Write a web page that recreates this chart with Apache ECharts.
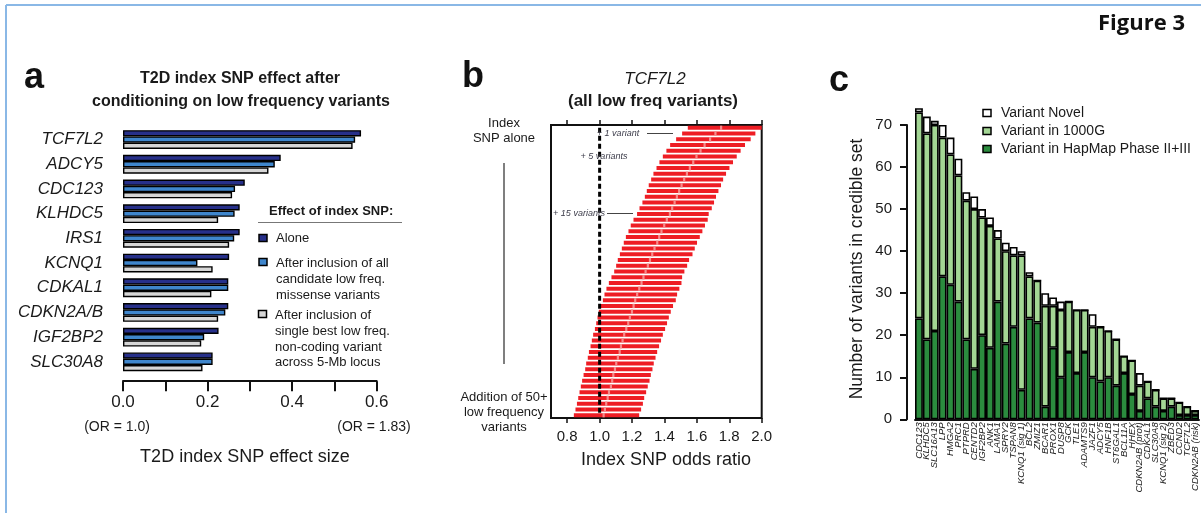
<!DOCTYPE html>
<html>
<head>
<meta charset="utf-8">
<script src="https://cdn.jsdelivr.net/npm/echarts@6/dist/echarts.min.js"></script>
<style>
  html, body { margin: 0; padding: 0; background: #fff; }
  #chart { width: 1201px; height: 513px; }
</style>
</head>
<body>
<div id="chart"></div>
<script>
// panel a: effect size of index SNP per locus
var genesA = ['TCF7L2', 'ADCY5', 'CDC123', 'KLHDC5', 'IRS1', 'KCNQ1', 'CDKAL1', 'CDKN2A/B', 'IGF2BP2', 'SLC30A8'];
var aloneA = [0.563, 0.373, 0.288, 0.276, 0.276, 0.251, 0.249, 0.249, 0.226, 0.212];
var missenseA = [0.549, 0.359, 0.265, 0.264, 0.263, 0.176, 0.249, 0.242, 0.192, 0.212];
var noncodingA = [0.543, 0.344, 0.258, 0.225, 0.251, 0.212, 0.209, 0.225, 0.185, 0.188];

// panel b: TCF7L2 odds ratio as low freq variants are added (CI low, CI high, estimate)
var loB = [1.544, 1.509, 1.472, 1.435, 1.412, 1.390, 1.369, 1.351, 1.332, 1.318,
           1.303, 1.291, 1.279, 1.264, 1.246, 1.231, 1.209, 1.192, 1.178, 1.162,
           1.149, 1.137, 1.125, 1.112, 1.102, 1.090, 1.073, 1.057, 1.042, 1.030,
           1.020, 1.008, 0.995, 0.987, 0.979, 0.971, 0.960, 0.952, 0.944, 0.934,
           0.927, 0.917, 0.911, 0.901, 0.892, 0.884, 0.876, 0.868, 0.860, 0.851, 0.841];
var hiB = [2.000, 1.961, 1.932, 1.897, 1.870, 1.846, 1.823, 1.801, 1.780, 1.762,
           1.749, 1.733, 1.718, 1.706, 1.692, 1.673, 1.667, 1.650, 1.634, 1.618,
           1.601, 1.587, 1.573, 1.552, 1.540, 1.523, 1.509, 1.505, 1.492, 1.478,
           1.470, 1.453, 1.439, 1.427, 1.416, 1.404, 1.390, 1.379, 1.367, 1.355,
           1.345, 1.334, 1.326, 1.316, 1.308, 1.297, 1.287, 1.275, 1.267, 1.256, 1.244];
var orB = [1.749, 1.714, 1.681, 1.647, 1.622, 1.597, 1.577, 1.556, 1.538, 1.521,
           1.505, 1.490, 1.476, 1.462, 1.447, 1.433, 1.414, 1.398, 1.381, 1.367,
           1.355, 1.338, 1.324, 1.310, 1.297, 1.283, 1.270, 1.258, 1.244, 1.231,
           1.219, 1.209, 1.199, 1.186, 1.176, 1.164, 1.151, 1.141, 1.131, 1.123,
           1.112, 1.102, 1.094, 1.084, 1.077, 1.069, 1.057, 1.049, 1.040, 1.032, 1.024];
var ticksB = [0.8, 1.0, 1.2, 1.4, 1.6, 1.8, 2.0];

// panel c: credible set sizes
var lociC = ['CDC123', 'KLHDC5', 'SLC16A13', 'LPP', 'HMGA2', 'PRC1', 'PTPRD', 'CENTD2', 'IGF2BP2',
             'ANK1', 'LAMA1', 'SPRY2', 'TSPAN8', 'KCNQ1 (sig 1)', 'BCL2', 'ZMIZ1', 'BCAR1', 'PROX1',
             'DUSP8', 'GCK', 'TLE1', 'ADAMTS9', 'JAZF1', 'ADCY5', 'HNF1B', 'ST6GAL1', 'BCL11A', 'HHEX',
             'CDKN2AB (prot)', 'CDKAL1', 'SLC30A8', 'KCNQ1 (sig 2)', 'ZBED3', 'CCND2', 'TCF7L2', 'CDKN2AB (risk)'];
var hapmapC = [24, 19, 21, 34, 32, 28, 19, 12, 20, 17, 28, 18, 22, 7, 24, 23, 3, 17,
               10, 16, 11, 16, 10, 9, 10, 8, 11, 6, 2, 5, 3, 2, 3, 1, 1, 1];
var kgC = [49, 49, 49, 33, 31, 30, 33, 38, 28, 29, 15, 22, 17, 32, 10, 10, 24, 10,
           16, 12, 15, 10, 12, 13, 11, 11, 4, 8, 6, 4, 4, 3, 2, 3, 2, 1];
var novelC = [1, 4, 1, 3, 4, 4, 2, 3, 2, 2, 2, 2, 2, 1, 1, 0, 3, 2,
              2, 0, 0, 0, 3, 0, 0, 0, 0, 0, 3, 0, 0, 0, 0, 0, 0, 0];

var FF = '"Liberation Sans", Arial, Helvetica, sans-serif';
var INK = '#1a1a1a';

var rowsB = loB.map(function (v, i) { return String(i + 1); });
var dataB = loB.map(function (v, i) { return [v, hiB[i], orB[i], i]; });

function txt(x, y, s, font, align, color, rot) {
    return {
        type: 'text', x: x, y: y, rotation: rot || 0, z: 10,
        style: {
            text: s, font: font, fill: color || INK,
            align: align || 'left', verticalAlign: 'middle',
            textAlign: align || 'left', textVerticalAlign: 'middle'
        }
    };
}
function box(x, y, w, h, fill) {
    return { type: 'rect', z: 10, shape: { x: x, y: y, width: w, height: h },
             style: { fill: fill, stroke: '#000', lineWidth: 1.5 } };
}
function line(x1, y1, x2, y2, color, w) {
    return { type: 'line', z: 10, shape: { x1: x1, y1: y1, x2: x2, y2: y2 },
             style: { stroke: color, lineWidth: w } };
}

var graphics = [
    // frame
    line(6, 5, 1201, 5, '#8ab8e6', 2),
    line(6, 5, 6, 513, '#8ab8e6', 2),
    txt(1185, 24, 'Figure 3', 'bold 22px "Open Sans", ' + FF, 'right', '#111'),
    // panel letters
    txt(24, 78, 'a', 'bold 36px ' + FF, 'left', '#111'),
    txt(462, 77, 'b', 'bold 36px ' + FF, 'left', '#111'),
    txt(829, 81, 'c', 'bold 36px ' + FF, 'left', '#111'),

    // panel a
    txt(240, 79, 'T2D index SNP effect after', 'bold 16px ' + FF, 'center'),
    txt(241, 101.5, 'conditioning on low frequency variants', 'bold 16px ' + FF, 'center'),
    txt(117, 427, '(OR = 1.0)', '14px ' + FF, 'center'),
    txt(374, 427, '(OR = 1.83)', '14px ' + FF, 'center'),
    txt(245, 457, 'T2D index SNP effect size', '18px ' + FF, 'center'),
    txt(269, 211, 'Effect of index SNP:', 'bold 13px ' + FF, 'left'),
    line(258, 222.5, 402, 222.5, '#777', 1),
    box(259, 234.5, 8, 7, '#27308a'),
    txt(276, 238.5, 'Alone', '13px ' + FF, 'left'),
    box(259, 258.5, 8, 7, '#3f86cc'),
    txt(276, 263, 'After inclusion of all', '13px ' + FF, 'left'),
    txt(276, 279, 'candidate low freq.', '13px ' + FF, 'left'),
    txt(276, 295, 'missense variants', '13px ' + FF, 'left'),
    box(258.5, 310.5, 8, 7, '#d6d6d6'),
    txt(275, 315, 'After inclusion of', '13px ' + FF, 'left'),
    txt(275, 331, 'single best low freq.', '13px ' + FF, 'left'),
    txt(275, 347, 'non-coding variant', '13px ' + FF, 'left'),
    txt(275, 362.5, 'across 5-Mb locus', '13px ' + FF, 'left'),

    // panel b
    txt(655, 79, 'TCF7L2', 'italic 17px ' + FF, 'center'),
    txt(653, 101.5, '(all low freq variants)', 'bold 17px ' + FF, 'center'),
    txt(666, 460, 'Index SNP odds ratio', '18px ' + FF, 'center'),
    txt(504, 123, 'Index', '13px ' + FF, 'center'),
    txt(504, 138, 'SNP alone', '13px ' + FF, 'center'),
    line(504, 163, 504, 364, '#555', 1.5),
    txt(504, 397, 'Addition of 50+', '13px ' + FF, 'center'),
    txt(504, 412, 'low frequency', '13px ' + FF, 'center'),
    txt(504, 427, 'variants', '13px ' + FF, 'center'),
    txt(618, 133.5, '+ 1 variant', 'italic 9px ' + FF, 'center', '#3a3a48'),
    line(647, 133.5, 673, 133.5, '#444', 1),
    txt(604, 156, '+ 5 variants', 'italic 9px ' + FF, 'center', '#3a3a48'),
    txt(579, 213.5, '+ 15 variants', 'italic 9px ' + FF, 'center', '#3a3a48'),
    line(607, 213.5, 633, 213.5, '#444', 1),

    // panel c
    txt(857, 269, 'Number of variants in credible set', '17.5px ' + FF, 'center', INK, Math.PI / 2),
    box(983, 109.5, 8, 7, '#ffffff'),
    txt(1001, 113.5, 'Variant Novel', '14px ' + FF, 'left'),
    box(983, 127.5, 8, 7, '#a3d694'),
    txt(1001, 131.5, 'Variant in 1000G', '14px ' + FF, 'left'),
    box(983, 145.5, 8, 7, '#2b8c3e'),
    txt(1001, 149.5, 'Variant in HapMap Phase II+III', '14px ' + FF, 'left')
];

var chart = echarts.init(document.getElementById('chart'), null, { renderer: 'canvas' });

var borderA = { borderColor: '#000', borderWidth: 1.4 };
var borderC = { borderColor: '#000', borderWidth: 1.6 };

var option = {
    backgroundColor: '#ffffff',
    animation: false,
    textStyle: { fontFamily: FF },
    grid: [
        { left: 123, top: 127.2, width: 253.7, height: 247 },
        { left: 551, top: 125, width: 210.7, height: 293, show: true, borderColor: '#111', borderWidth: 2 },
        { left: 915, top: 125, width: 284, height: 294.3 }
    ],
    xAxis: [
        {
            gridIndex: 0, type: 'value', min: 0, max: 0.6, interval: 0.1, offset: 7,
            axisLine: { show: true, lineStyle: { color: '#111', width: 2 } },
            axisTick: { show: true, length: 10, lineStyle: { color: '#111', width: 2 } },
            axisLabel: {
                fontSize: 17, color: INK, margin: 13, fontFamily: FF,
                formatter: function (v) { return Math.round(v * 10) % 2 === 0 ? v.toFixed(1) : ''; }
            },
            splitLine: { show: false }
        },
        {
            gridIndex: 1, type: 'value', min: 0.7, max: 2.0, position: 'bottom',
            axisLine: { show: false },
            axisTick: { show: true, length: 5, customValues: ticksB, lineStyle: { color: '#111', width: 1.5 } },
            axisLabel: {
                fontSize: 15, color: INK, margin: 11, fontFamily: FF, customValues: ticksB,
                formatter: function (v) { return v.toFixed(1); }
            },
            splitLine: { show: false }
        },
        {
            gridIndex: 1, type: 'value', min: 0.7, max: 2.0, position: 'top',
            axisLine: { show: false },
            axisTick: { show: true, length: 5, customValues: ticksB, lineStyle: { color: '#111', width: 1.5 } },
            axisLabel: { show: false },
            splitLine: { show: false }
        },
        {
            gridIndex: 2, type: 'category', data: lociC,
            axisLine: { show: true, lineStyle: { color: '#111', width: 2 } },
            axisTick: { show: false },
            axisLabel: {
                interval: 0, rotate: 90, fontSize: 9.5, fontStyle: 'italic', color: INK, margin: 3, fontFamily: FF
            }
        }
    ],
    yAxis: [
        {
            gridIndex: 0, type: 'category', data: genesA, inverse: true,
            axisLine: { show: false }, axisTick: { show: false },
            axisLabel: { fontSize: 17, fontStyle: 'italic', color: INK, margin: 20, fontFamily: FF }
        },
        {
            gridIndex: 1, type: 'category', data: rowsB, inverse: true, show: false
        },
        {
            gridIndex: 2, type: 'value', min: 0, max: 70, interval: 10, offset: 8,
            axisLine: { show: true, lineStyle: { color: '#111', width: 2 } },
            axisTick: { show: true, length: 7, lineStyle: { color: '#111', width: 2 } },
            axisLabel: { fontSize: 15, color: INK, margin: 15, fontFamily: FF },
            splitLine: { show: false }
        }
    ],
    series: [
        {
            name: 'Alone', type: 'bar', xAxisIndex: 0, yAxisIndex: 0, data: aloneA,
            barGap: '0%', barCategoryGap: '24%',
            itemStyle: Object.assign({ color: '#27308a' }, borderA)
        },
        {
            name: 'After inclusion of all candidate low freq. missense variants', type: 'bar',
            xAxisIndex: 0, yAxisIndex: 0, data: missenseA, barGap: '0%', barCategoryGap: '24%',
            itemStyle: Object.assign({ color: '#3f86cc' }, borderA)
        },
        {
            name: 'After inclusion of single best low freq. non-coding variant across 5-Mb locus', type: 'bar',
            xAxisIndex: 0, yAxisIndex: 0, data: noncodingA, barGap: '0%', barCategoryGap: '24%',
            itemStyle: Object.assign({ color: '#d6d6d6' }, borderA)
        },
        {
            name: 'Index SNP odds ratio', type: 'custom', xAxisIndex: 1, yAxisIndex: 1,
            data: dataB, encode: { x: [0, 1, 2], y: 3 },
            renderItem: function (params, api) {
                var p1 = api.coord([api.value(0), api.value(3)]);
                var p2 = api.coord([api.value(1), api.value(3)]);
                var pm = api.coord([api.value(2), api.value(3)]);
                return {
                    type: 'group',
                    children: [
                        { type: 'rect', shape: { x: p1[0], y: p1[1] - 2, width: p2[0] - p1[0], height: 4 },
                          style: { fill: '#ee1d24' } },
                        { type: 'rect', shape: { x: pm[0] - 1, y: p1[1] - 2.2, width: 2.2, height: 4.4 },
                          style: { fill: '#f58c8c' } }
                    ]
                };
            },
            z: 2
        },
        {
            type: 'line', xAxisIndex: 1, yAxisIndex: 1, data: [[1.0, 0], [1.0, loB.length - 1]],
            symbol: 'none', z: 5,
            lineStyle: { color: '#000', width: 3, type: [5, 3] }
        },
        {
            name: 'Variant in HapMap Phase II+III', type: 'bar', xAxisIndex: 3, yAxisIndex: 2,
            stack: 'c', data: hapmapC, barCategoryGap: '0%', clip: false,
            itemStyle: Object.assign({ color: '#2b8c3e' }, borderC)
        },
        {
            name: 'Variant in 1000G', type: 'bar', xAxisIndex: 3, yAxisIndex: 2,
            stack: 'c', data: kgC, barCategoryGap: '0%', clip: false,
            itemStyle: Object.assign({ color: '#a3d694' }, borderC)
        },
        {
            name: 'Variant Novel', type: 'bar', xAxisIndex: 3, yAxisIndex: 2,
            stack: 'c', data: novelC, barCategoryGap: '0%', clip: false,
            itemStyle: Object.assign({ color: '#ffffff' }, borderC)
        }
    ],
    graphic: graphics
};

chart.setOption(option);
</script>
</body>
</html>
